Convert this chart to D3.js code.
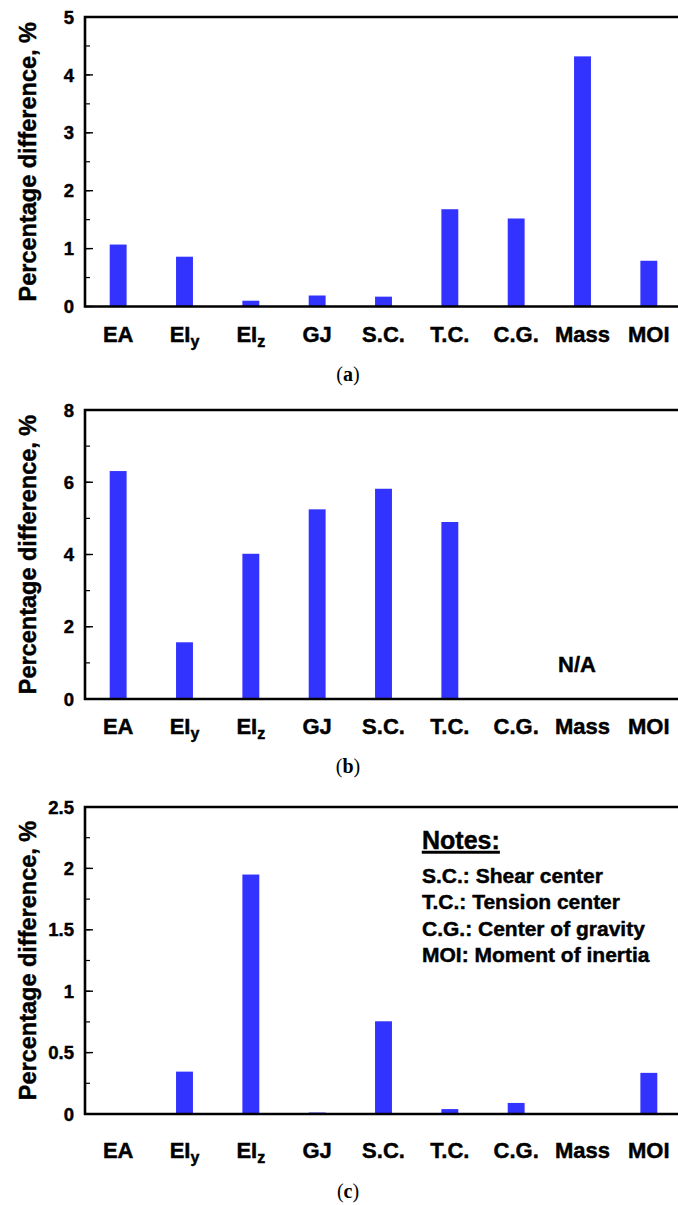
<!DOCTYPE html>
<html>
<head>
<meta charset="utf-8">
<script src="https://d3js.org/d3.v7.min.js"></script>
<style>
  body { margin: 0; background: #fff; }
  text { font-family: "Liberation Sans", Arial, sans-serif; font-weight: bold; fill: #000; stroke: #000; stroke-width: 0.45px; }
  .caption { font-family: "Liberation Serif", "DejaVu Serif", serif; font-weight: normal; stroke: none; }
</style>
</head>
<body>
<svg id="chart" width="678" height="1205"></svg>
<script>
// categories (main text + subscript)
var categories = ["EA", "EI_y", "EI_z", "GJ", "S.C.", "T.C.", "C.G.", "Mass", "MOI"];

// percentage difference per panel (null = not available)
var valuesA = [1.07, 0.86, 0.10, 0.19, 0.17, 1.68, 1.52, 4.32, 0.79];
var valuesB = [6.31, 1.57, 4.02, 5.25, 5.82, 4.90, null, null, null];
var valuesC = [0, 0.345, 1.95, 0.012, 0.755, 0.04, 0.09, 0, 0.335];

// y ticks per panel
var ticksA = [0, 1, 2, 3, 4, 5];
var ticksB = [0, 2, 4, 6, 8];
var ticksC = [0, 0.5, 1, 1.5, 2, 2.5];

var notes = ["S.C.: Shear center", "T.C.: Tension center", "C.G.: Center of gravity", "MOI: Moment of inertia"];

var svg = d3.select("#chart");
var left = 85, right = 682;
var blue = "#3333ff";

var x = d3.scaleBand().domain(categories).range([left, right]).paddingInner(0.745).paddingOuter(0.3725);

function drawPanel(values, ticks, minor, top, bottom, labelY, capY, letter) {
  var yMax = ticks[ticks.length - 1];
  var y = d3.scaleLinear().domain([0, yMax]).range([bottom, top]);
  var g = svg.append("g");

  // bars
  g.selectAll("rect.bar")
    .data(values.map(function(v, i) { return {c: categories[i], v: v}; }).filter(function(d) { return d.v != null && d.v > 0; }))
    .enter().append("rect")
    .attr("class", "bar")
    .attr("x", function(d) { return x(d.c); })
    .attr("width", x.bandwidth())
    .attr("y", function(d) { return y(d.v); })
    .attr("height", function(d) { return y(0) - y(d.v); })
    .attr("fill", blue);

  // minor ticks
  g.selectAll("line.minor")
    .data(d3.range(0, yMax + 1e-9, minor))
    .enter().append("line")
    .attr("x1", left).attr("x2", left + 5)
    .attr("y1", function(d) { return y(d); }).attr("y2", function(d) { return y(d); })
    .attr("stroke", "#000").attr("stroke-width", 1.2);

  // major ticks + labels
  g.selectAll("line.major")
    .data(ticks)
    .enter().append("line")
    .attr("x1", left).attr("x2", left + 8)
    .attr("y1", function(d) { return y(d); }).attr("y2", function(d) { return y(d); })
    .attr("stroke", "#000").attr("stroke-width", 1.4);

  g.selectAll("text.tick")
    .data(ticks)
    .enter().append("text")
    .attr("x", 74)
    .attr("y", function(d) { return y(d); })
    .attr("dy", "0.36em")
    .attr("text-anchor", "end")
    .style("font-size", "18.5px")
    .text(function(d) { return d3.format("")(d); });

  // frame (left, top, bottom)
  g.append("path")
    .attr("d", "M" + right + "," + top + "H" + left + "V" + bottom + "H" + right)
    .attr("fill", "none").attr("stroke", "#000").attr("stroke-width", 2.6);

  // category labels
  var lab = g.selectAll("text.cat")
    .data(categories)
    .enter().append("text")
    .attr("x", function(d) { return x(d) + x.bandwidth() / 2; })
    .attr("y", labelY)
    .attr("text-anchor", "middle")
    .style("font-size", "22px");
  lab.each(function(d) {
    var parts = d.split("_");
    var t = d3.select(this);
    t.append("tspan").text(parts[0]);
    if (parts[1]) t.append("tspan").attr("dy", 5).style("font-size", "16px").text(parts[1]);
  });

  // y title
  g.append("text")
    .attr("transform", "translate(36," + ((top + bottom) / 2) + ") rotate(-90)")
    .attr("text-anchor", "middle")
    .style("font-size", "23.5px")
    .text("Percentage difference, %");

  // caption
  var cap = g.append("text").attr("class", "caption")
    .attr("x", 348).attr("y", capY)
    .attr("text-anchor", "middle")
    .style("font-size", "20px");
  cap.append("tspan").text("(");
  cap.append("tspan").style("font-weight", "bold").text(letter);
  cap.append("tspan").text(")");

  return {g: g, y: y};
}

drawPanel(valuesA, ticksA, 0.5, 17, 306.5, 342, 381, "a");
var pb = drawPanel(valuesB, ticksB, 1, 410, 699, 734, 773, "b");
drawPanel(valuesC, ticksC, 0.25, 807, 1114, 1158, 1198, "c");

// N/A marker over the missing bars in panel b
pb.g.append("text")
  .attr("x", 577).attr("y", 672)
  .attr("text-anchor", "middle")
  .style("font-size", "22px")
  .text("N/A");

// notes box in panel c
var nt = svg.append("g");
nt.append("text")
  .attr("x", 422).attr("y", 849)
  .style("font-size", "25px")
  .style("text-decoration", "underline")
  .text("Notes:");
nt.selectAll("text.note")
  .data(notes)
  .enter().append("text")
  .attr("x", 422)
  .attr("y", function(d, i) { return 883 + i * 26.3; })
  .style("font-size", "21px")
  .text(function(d) { return d; });
</script>
</body>
</html>
